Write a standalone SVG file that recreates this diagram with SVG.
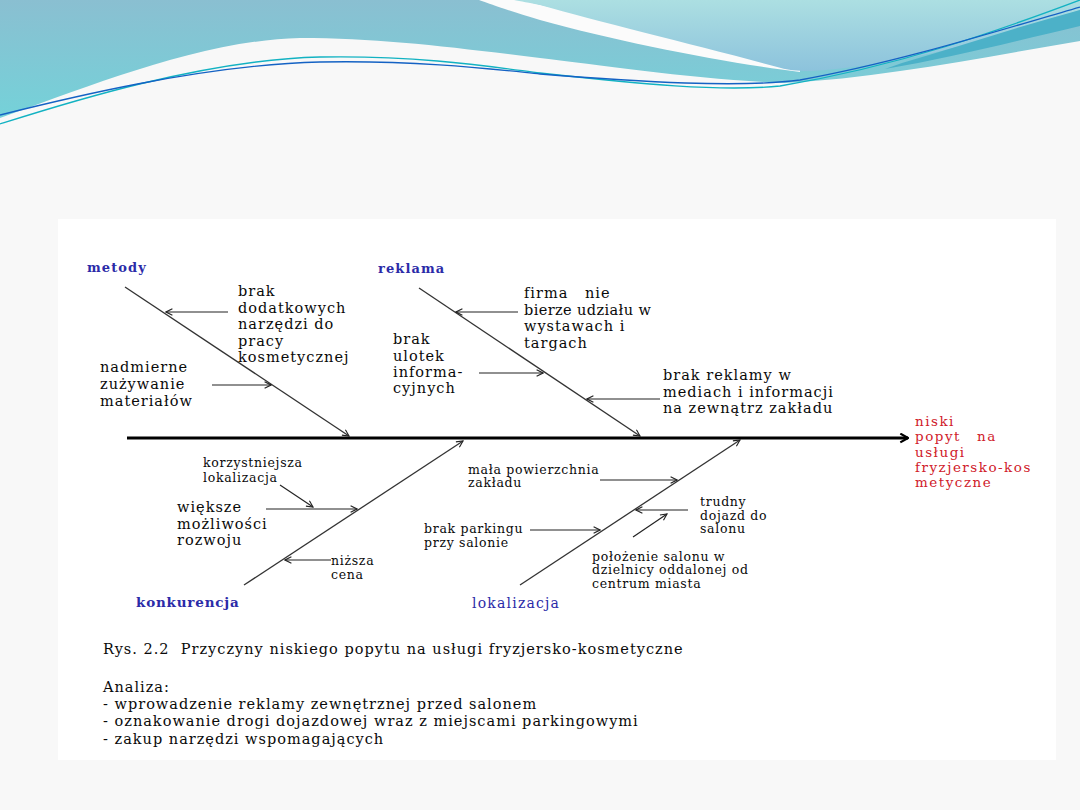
<svg xmlns="http://www.w3.org/2000/svg" width="1080" height="810" viewBox="0 0 1080 810">
<defs>
<linearGradient id="gA" x1="0" y1="0" x2="0" y2="120" gradientUnits="userSpaceOnUse">
<stop offset="0" stop-color="#8abfd1"/><stop offset="1" stop-color="#74d2d9"/>
</linearGradient>
<linearGradient id="gB" x1="0" y1="0" x2="0" y2="72" gradientUnits="userSpaceOnUse">
<stop offset="0" stop-color="#acdfe2"/><stop offset="1" stop-color="#8cc2dc"/>
</linearGradient>
<marker id="ar" viewBox="0 0 10 10" refX="9" refY="5" markerWidth="8" markerHeight="8" markerUnits="userSpaceOnUse" orient="auto">
<path d="M1,1 L9,5 L1,9" fill="none" stroke="#222" stroke-width="1.4"/>
</marker>
<marker id="big" viewBox="0 0 10 10" refX="9" refY="5" markerWidth="11" markerHeight="11" markerUnits="userSpaceOnUse" orient="auto">
<path d="M2,1 L9,5 L2,9" fill="none" stroke="#000" stroke-width="2"/>
</marker>
<style>
.t{font-family:"DejaVu Serif","Liberation Serif",serif;font-size:14.5px;fill:#0a0a0a;letter-spacing:1px}
.s{font-size:12.5px;letter-spacing:0.7px}
.lbl{fill:#2b2ba8;font-weight:bold;font-size:13px;letter-spacing:1.1px}
.red{fill:#d0202a;font-size:13.5px;letter-spacing:1.5px}
.cap{font-size:14.5px;letter-spacing:1px}
.br{stroke:#333;stroke-width:1.3;fill:none}
.a{stroke:#222;stroke-width:1.2;fill:none;marker-end:url(#ar)}
</style>
</defs>
<rect width="1080" height="810" fill="#f8f8f8"/>
<g id="header">
<path d="M0,0 H1080 V41 C980,58 880,78 785,83 C700,80 600,65 540,58 C450,47 380,38 300,38 C200,40 80,90 0,118 Z" fill="url(#gA)"/>
<path d="M479,0 H520 L800,66 L800,72 C720,62 620,42 540,20 C510,11 490,4 479,0 Z" fill="#fbfbfb"/>
<path d="M514,0 H1080 V10 C1000,38 900,66 810,71 C795,71 788,70 781,68 C700,46 600,22 540,5 C530,3 520,1 514,0 Z" fill="url(#gB)"/>
<path d="M902,63 C960,46 1020,26 1080,10 V26 C1020,40 950,58 885,69 Z" fill="#4cb1c8"/>
<path d="M0,124 C60,105 200,60 320,57 C420,55 500,68 540,73 C640,84 720,92 780,86 C900,66 1000,30 1080,0" fill="none" stroke="#12b2c2" stroke-width="1.3"/>
<path d="M0,115 C60,100 200,65 320,62 C420,60 500,70 540,74 C640,82 740,88 800,80 C900,62 1000,30 1080,7" fill="none" stroke="#1462c4" stroke-width="1.3"/>
</g>
<rect x="58" y="219" width="998" height="541" fill="#ffffff"/>
<g id="connectors">
<line x1="127" y1="438" x2="908" y2="438" stroke="#000" stroke-width="3" marker-end="url(#big)"/>
<line class="br" x1="125" y1="287" x2="349" y2="436" marker-end="url(#ar)"/>
<line class="a" x1="228" y1="312" x2="166" y2="312"/>
<line class="a" x1="212" y1="385" x2="271" y2="385"/>
<line class="br" x1="419" y1="288" x2="640" y2="436" marker-end="url(#ar)"/>
<line class="a" x1="518" y1="312" x2="456" y2="312"/>
<line class="a" x1="479" y1="373" x2="543" y2="373"/>
<line class="a" x1="660" y1="399" x2="587" y2="399"/>
<line class="br" x1="244" y1="585" x2="463" y2="441" marker-end="url(#ar)"/>
<line class="a" x1="280" y1="485" x2="313" y2="507"/>
<line class="a" x1="266" y1="509" x2="357" y2="509"/>
<line class="a" x1="331" y1="560" x2="285" y2="560"/>
<line class="br" x1="520" y1="585" x2="740" y2="440" marker-end="url(#ar)"/>
<line class="a" x1="600" y1="480" x2="677" y2="480"/>
<line class="a" x1="688" y1="510" x2="636" y2="510"/>
<line class="a" x1="530" y1="530" x2="600" y2="530"/>
<line class="a" x1="633" y1="537" x2="667" y2="514"/>
</g>
<g id="effect">
<text class="t red" x="915" y="426">niski</text>
<text class="t red" y="441"><tspan x="915">popyt</tspan><tspan x="977">na</tspan></text>
<text class="t red" x="915" y="457">usługi</text>
<text class="t red" x="915" y="472">fryzjersko-kos</text>
<text class="t red" x="915" y="487">metyczne</text>
</g>
<g id="metody">
<text class="t lbl" x="87" y="272">metody</text>
<text class="t" x="238" y="296">brak</text>
<text class="t" x="238" y="313">dodatkowych</text>
<text class="t" x="238" y="329">narzędzi do</text>
<text class="t" x="238" y="346">pracy</text>
<text class="t" x="238" y="362">kosmetycznej</text>
<text class="t" x="100" y="372">nadmierne</text>
<text class="t" x="100" y="389">zużywanie</text>
<text class="t" x="100" y="406">materiałów</text>
</g>
<g id="reklama">
<text class="t lbl" x="378" y="273">reklama</text>
<text class="t" y="298"><tspan x="524">firma</tspan><tspan x="585">nie</tspan></text>
<text class="t" x="524" y="315" style="letter-spacing:0.4px">bierze udziału w</text>
<text class="t" x="524" y="331">wystawach i</text>
<text class="t" x="524" y="348">targach</text>
<text class="t" x="393" y="344">brak</text>
<text class="t" x="393" y="361">ulotek</text>
<text class="t" x="393" y="377">informa-</text>
<text class="t" x="393" y="393">cyjnych</text>
<text class="t" x="663" y="380">brak reklamy w</text>
<text class="t" x="663" y="397">mediach i informacji</text>
<text class="t" x="663" y="413">na zewnątrz zakładu</text>
</g>
<g id="konkurencja">
<text class="t lbl" x="136" y="607" style="font-size:13.5px;letter-spacing:0.8px">konkurencja</text>
<text class="t s" x="203" y="467">korzystniejsza</text>
<text class="t s" x="203" y="482">lokalizacja</text>
<text class="t" x="177" y="512">większe</text>
<text class="t" x="177" y="529">możliwości</text>
<text class="t" x="177" y="545">rozwoju</text>
<text class="t s" x="331" y="565">niższa</text>
<text class="t s" x="331" y="579">cena</text>
</g>
<g id="lokalizacja">
<text class="t lbl" x="472" y="608" style="font-weight:normal;font-size:14px;letter-spacing:1.2px">lokalizacja</text>
<text class="t s" x="468" y="474">mała powierzchnia</text>
<text class="t s" x="468" y="487">zakładu</text>
<text class="t s" x="700" y="506">trudny</text>
<text class="t s" x="700" y="520">dojazd do</text>
<text class="t s" x="700" y="533">salonu</text>
<text class="t s" x="424" y="533">brak parkingu</text>
<text class="t s" x="424" y="547">przy salonie</text>
<text class="t s" x="592" y="561">położenie salonu w</text>
<text class="t s" x="592" y="574">dzielnicy oddalonej od</text>
<text class="t s" x="592" y="588">centrum miasta</text>
</g>
<g id="caption">
<text class="t cap" x="103" y="654" xml:space="preserve">Rys. 2.2  Przyczyny niskiego popytu na usługi fryzjersko-kosmetyczne</text>
<text class="t cap" x="103" y="692">Analiza:</text>
<text class="t cap" x="103" y="709">- wprowadzenie reklamy zewnętrznej przed salonem</text>
<text class="t cap" x="103" y="726">- oznakowanie drogi dojazdowej wraz z miejscami parkingowymi</text>
<text class="t cap" x="103" y="744">- zakup narzędzi wspomagających</text>
</g>
</svg>
